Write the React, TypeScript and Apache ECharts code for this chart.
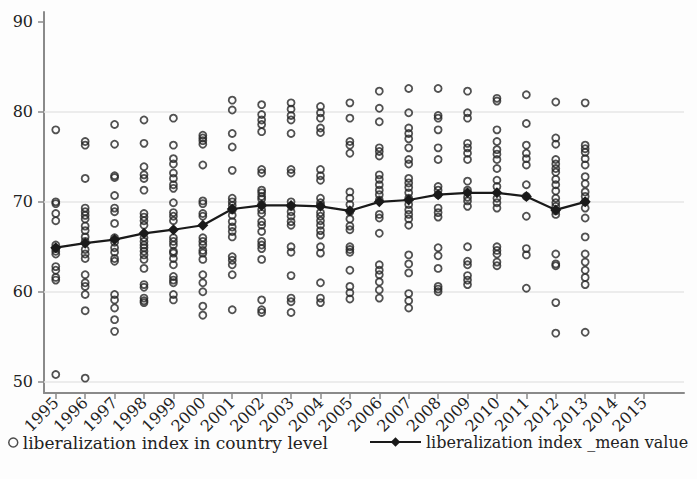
import React, { useEffect, useRef } from "react";
import * as echarts from "echarts";

const years = [1995, 1996, 1997, 1998, 1999, 2000, 2001, 2002, 2003, 2004, 2005, 2006, 2007, 2008, 2009, 2010, 2011, 2012, 2013];
const tickYears = [1995, 1996, 1997, 1998, 1999, 2000, 2001, 2002, 2003, 2004, 2005, 2006, 2007, 2008, 2009, 2010, 2011, 2012, 2013, 2014, 2015];
const yTicks = [50, 60, 70, 80, 90];
const gridValues = [50, 60, 70, 80];

const v1995 = [78.0, 70.0, 69.8, 68.7, 67.9, 65.2, 64.8, 64.5, 64.2, 62.8, 62.4, 61.6, 61.3, 50.8];
const v1996 = [76.7, 76.3, 72.6, 69.3, 68.9, 68.5, 68.1, 67.3, 66.8, 66.1, 65.6, 64.7, 64.2, 63.7, 61.9, 61.0, 60.6, 59.7, 57.9, 50.4];
const v1997 = [78.6, 76.4, 72.9, 72.7, 70.7, 69.3, 68.9, 67.6, 66.0, 65.5, 64.9, 64.4, 63.7, 63.4, 59.7, 59.1, 58.2, 56.9, 55.6];
const v1998 = [79.1, 76.5, 73.9, 73.0, 72.6, 71.3, 68.7, 68.3, 67.9, 67.4, 66.0, 65.6, 65.2, 64.9, 64.5, 64.1, 63.6, 62.6, 60.8, 60.5, 59.3, 59.0, 58.8];
const v1999 = [79.3, 76.3, 74.8, 74.2, 73.2, 72.6, 71.9, 71.5, 69.9, 68.8, 68.4, 67.9, 66.0, 65.6, 65.2, 64.5, 64.3, 63.7, 63.0, 61.7, 61.3, 61.0, 59.7, 59.1];
const v2000 = [77.4, 77.1, 76.8, 76.4, 74.1, 70.1, 69.8, 68.7, 68.4, 66.0, 65.6, 65.2, 64.6, 64.3, 63.6, 61.9, 61.0, 60.0, 58.4, 57.4];
const v2001 = [81.3, 80.2, 77.6, 76.1, 73.5, 70.4, 70.0, 69.6, 69.1, 68.5, 67.8, 67.2, 66.7, 66.1, 63.9, 63.5, 63.0, 61.9, 58.0];
const v2002 = [80.8, 79.7, 79.1, 78.6, 77.8, 73.6, 73.2, 71.3, 71.0, 70.6, 70.3, 69.7, 69.1, 68.7, 67.8, 67.4, 66.7, 65.6, 65.2, 64.8, 63.6, 59.1, 58.0, 57.7];
const v2003 = [81.0, 80.3, 79.6, 79.1, 77.6, 73.6, 73.2, 70.0, 69.5, 68.9, 68.4, 67.8, 67.4, 65.0, 64.4, 61.8, 59.3, 58.9, 57.7];
const v2004 = [80.6, 79.9, 79.3, 78.2, 77.7, 73.6, 72.9, 72.4, 70.4, 69.9, 69.6, 68.8, 68.4, 67.9, 67.4, 66.8, 66.3, 65.0, 64.3, 61.0, 59.3, 58.8];
const v2005 = [81.0, 79.3, 76.7, 76.3, 75.4, 71.1, 70.4, 69.7, 68.9, 68.1, 67.3, 66.9, 65.0, 64.7, 64.4, 62.4, 60.6, 59.9, 59.2];
const v2006 = [82.3, 80.4, 78.9, 76.0, 75.6, 75.1, 73.0, 72.5, 71.9, 71.3, 70.8, 70.2, 68.6, 68.2, 66.5, 63.0, 62.4, 61.9, 61.1, 60.2, 59.3];
const v2007 = [82.6, 79.9, 78.2, 77.6, 77.0, 76.0, 74.7, 74.2, 72.6, 72.1, 71.6, 71.0, 70.4, 69.7, 69.1, 68.6, 68.1, 67.4, 64.1, 63.1, 62.1, 59.8, 59.0, 58.2];
const v2008 = [82.6, 79.6, 79.3, 78.0, 76.0, 74.7, 71.7, 71.3, 70.8, 69.3, 68.8, 68.3, 64.9, 64.0, 62.6, 60.6, 60.3, 60.0];
const v2009 = [82.3, 79.9, 79.3, 76.5, 76.0, 75.4, 74.7, 72.3, 71.3, 70.5, 70.1, 69.5, 65.0, 63.4, 63.0, 61.8, 61.3, 60.8];
const v2010 = [81.5, 81.2, 78.0, 76.7, 75.8, 75.3, 74.7, 73.7, 72.4, 71.7, 70.4, 69.9, 69.3, 65.0, 64.6, 64.2, 63.3, 62.9];
const v2011 = [81.9, 78.7, 76.3, 75.4, 74.8, 74.1, 71.9, 70.6, 68.4, 64.8, 64.1, 60.4];
const v2012 = [81.1, 77.1, 76.4, 74.7, 74.2, 73.7, 73.3, 72.5, 71.9, 71.2, 70.4, 69.9, 69.5, 69.0, 68.6, 64.2, 63.1, 62.9, 58.8, 55.4];
const v2013 = [81.0, 76.3, 75.9, 75.5, 74.8, 74.1, 72.8, 72.0, 71.1, 70.6, 70.0, 69.3, 68.2, 66.1, 64.2, 63.3, 62.4, 61.6, 60.8, 55.5];

const countryLevel = [v1995, v1996, v1997, v1998, v1999, v2000, v2001, v2002, v2003, v2004, v2005, v2006, v2007, v2008, v2009, v2010, v2011, v2012, v2013];
const meanValues = [64.9, 65.4, 65.8, 66.5, 66.9, 67.4, 69.2, 69.6, 69.6, 69.5, 69.0, 70.0, 70.2, 70.8, 71.0, 71.0, 70.6, 69.1, 70.0];

const SERIES_A = "liberalization index in country level";
const SERIES_B = "liberalization index _mean value";
const FONT = "DejaVu Serif";

export default function App() {
  const ref = useRef<HTMLDivElement>(null);
  useEffect(() => {
    if (!ref.current) return;
    const chart = echarts.init(ref.current, undefined, { renderer: "svg" });
    const scatterData: number[][] = [];
    countryLevel.forEach((vals, i) => vals.forEach((v) => scatterData.push([years[i], v])));
    const meanData = years.map((y, i) => [y, meanValues[i]]);
    const axisColor = "#8a8a8a";
    chart.setOption({
      animation: false,
      backgroundColor: "#fdfdfd",
      grid: { left: 44, right: 13, top: 12, bottom: 86, containLabel: false },
      xAxis: {
        type: "value",
        min: 1994.6,
        max: 2016.36,
        axisLine: { show: true, onZero: false, lineStyle: { color: axisColor, width: 2 } },
        axisTick: { show: true, customValues: tickYears, length: 6, lineStyle: { color: axisColor, width: 1.5 } },
        axisLabel: {
          customValues: tickYears,
          rotate: 45,
          margin: 7,
          fontFamily: FONT,
          fontSize: 16,
          color: "#222",
          formatter: (v: number) => String(Math.round(v)),
        },
        splitLine: { show: false },
      },
      yAxis: {
        type: "value",
        min: 48.75,
        max: 91.1,
        axisLine: { show: true, onZero: false, lineStyle: { color: axisColor, width: 2 } },
        axisTick: { show: true, customValues: yTicks, length: 6, lineStyle: { color: axisColor, width: 1.5 } },
        axisLabel: {
          customValues: yTicks,
          margin: 11,
          fontFamily: FONT,
          fontSize: 16,
          color: "#222",
          formatter: (v: number) => String(Math.round(v)),
        },
        splitLine: { show: false },
      },
      legend: [
        {
          data: [
            {
              name: SERIES_A,
              icon: "circle",
              itemStyle: { color: "transparent", borderColor: "#222", borderWidth: 1.5 },
            },
          ],
          left: 3,
          top: 429,
          itemWidth: 9,
          itemHeight: 9,
          itemGap: 6,
          textStyle: { fontFamily: FONT, fontSize: 17, color: "#222" },
        },
        {
          data: [SERIES_B],
          left: 364,
          top: 429,
          itemWidth: 51,
          itemHeight: 12,
          textStyle: { fontFamily: FONT, fontSize: 16, color: "#222" },
        },
      ],
      series: [
        {
          name: SERIES_A,
          type: "scatter",
          symbol: "circle",
          symbolSize: 7,
          itemStyle: { color: "transparent", borderColor: "#262626", borderWidth: 1.8 },
          data: scatterData,
          z: 2,
          markLine: {
            silent: true,
            symbol: ["none", "none"],
            label: { show: false },
            lineStyle: { color: "#e6e6e6", type: "solid", width: 1.5 },
            data: gridValues.map((g) => ({ yAxis: g })),
            z: 1,
          },
        },
        {
          name: SERIES_B,
          type: "line",
          symbol: "diamond",
          symbolSize: 11,
          lineStyle: { color: "#1a1a1a", width: 2.2 },
          itemStyle: { color: "#1a1a1a" },
          data: meanData,
          z: 5,
        },
      ],
    });
    return () => chart.dispose();
  }, []);
  return <div ref={ref} style={{ position: "fixed", left: 0, top: 0, width: 697, height: 479 }} />;
}
